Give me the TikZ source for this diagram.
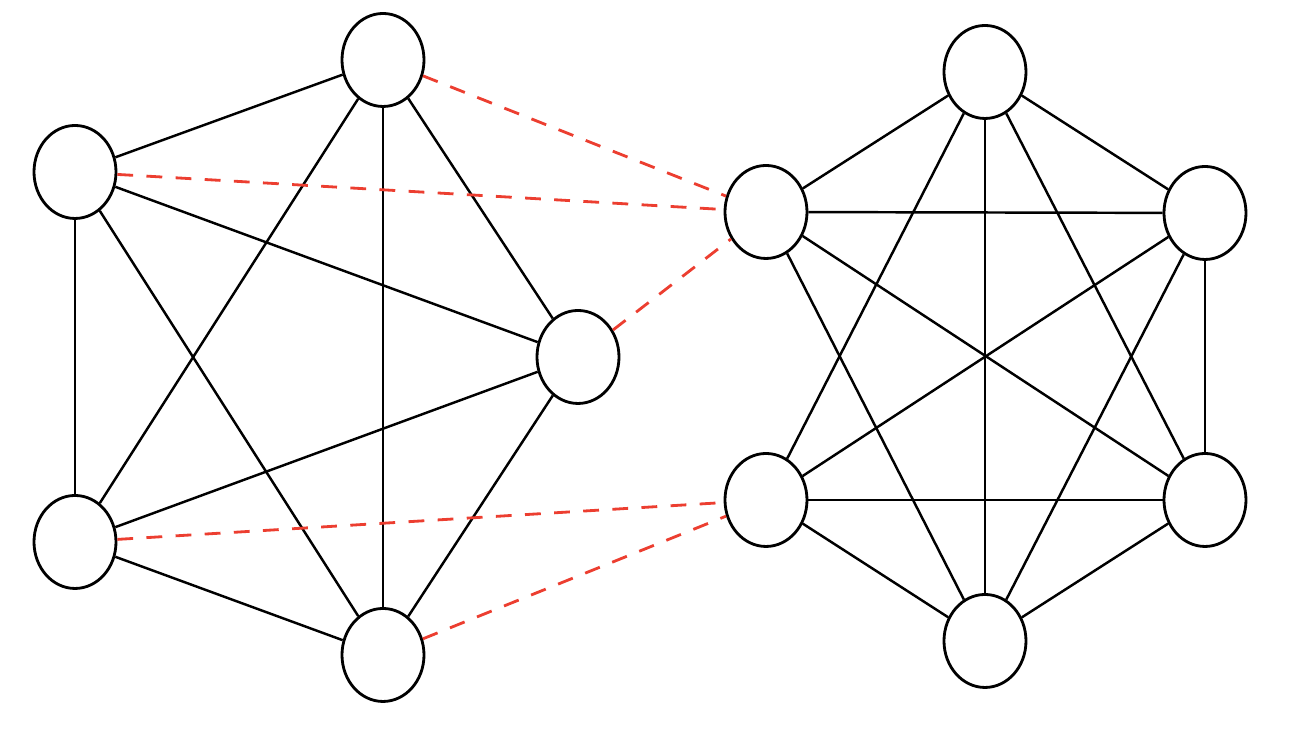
\documentclass[tikz,border=0pt]{standalone}
\usetikzlibrary{shapes.geometric}
\definecolor{linkred}{RGB}{236,62,48}
\def\nw{0.82cm}
\def\nh{0.93cm}
\tikzset{
    vertex/.style = {
        draw, ellipse, minimum width=\nw, minimum height=\nh, inner sep=0pt, line width=0.8pt
    },
    edge/.style = {line width=0.7pt},
    bridge/.style = {linkred, line width=0.8pt, dash pattern=on 4.5pt off 3.8pt},
}
\begin{document}
\begin{tikzpicture}
    \useasboundingbox (0,0) rectangle (12.92,7.46);
    % Left graph
    \node[vertex] (ltop) at (3.83, 6.86) {};
    \node[vertex] (lul)  at (0.75, 5.74) {};
    \node[vertex] (lr)   at (5.78, 3.89) {};
    \node[vertex] (lll)  at (0.75, 2.04) {};
    \node[vertex] (lbot) at (3.83, 0.91) {};
    % Right graph
    \node[vertex] (rtop) at (9.85, 6.74) {};
    \node[vertex] (rul)  at (7.66, 5.34) {};
    \node[vertex] (rur)  at (12.05, 5.33) {};
    \node[vertex] (rll)  at (7.66, 2.46) {};
    \node[vertex] (rlr)  at (12.05, 2.46) {};
    \node[vertex] (rbot) at (9.85, 1.05) {};
    % Left edges
    \foreach \a/\b in {ltop/lul, ltop/lr, ltop/lbot, ltop/lll, lul/lll, lul/lr, lul/lbot, lll/lr, lll/lbot, lbot/lr}{
        \draw[edge] (\a) -- (\b);
    }
    % Right edges
    \foreach \a/\b in {rtop/rul, rtop/rur, rtop/rll, rtop/rlr, rtop/rbot, rul/rur, rul/rlr, rul/rbot, rll/rur, rll/rlr, rll/rbot, rur/rlr, rur/rbot, rlr/rbot}{
        \draw[edge] (\a) -- (\b);
    }
    % Links between the graphs
    \foreach \a/\b in {ltop/rul, lul/rul, lr/rul, lll/rll, lbot/rll}{
        \draw[bridge] (\a) -- (\b);
    }
\end{tikzpicture}
\end{document}
